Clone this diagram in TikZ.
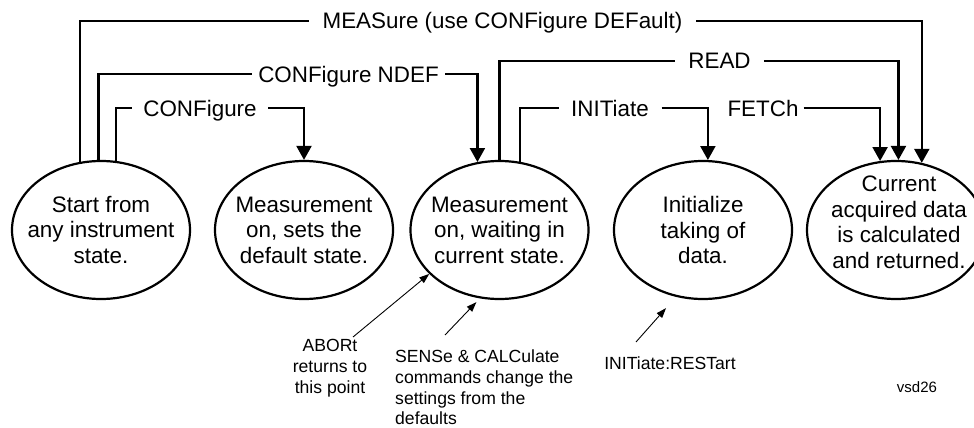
\documentclass[tikz,border=0pt]{standalone}
\usepackage{fontspec}
\setmainfont{Liberation Sans}
\usetikzlibrary{shapes.geometric, arrows.meta}

\begin{document}
\begin{tikzpicture}[x=1pt, y=-1pt,
    state/.style={draw, line width=2.2pt, ellipse, minimum width=178pt, minimum height=138pt, inner sep=0pt},
    statetxt/.style={align=center, font=\fontsize{22.4}{25.5}\selectfont},
    cmd/.style={font=\fontsize{22.4}{25.5}\selectfont, text height=16pt, text depth=0pt, inner ysep=0pt},
    link/.style={line width=2.2pt},
    linkto/.style={link, -{Triangle[length=14pt, width=15pt]}},
    note/.style={align=center, font=\fontsize{17.6}{20.8}\selectfont, inner sep=0pt},
    hint/.style={line width=0.9pt, -{Triangle[length=10pt, width=7pt]}}]

    \useasboundingbox (0,0) rectangle (974,428);

    % states
    \node[state, label={[statetxt]center:{Start from\\any instrument\\state.}}] (start) at (101,230) {};
    \node[state, label={[statetxt]center:{Measurement\\on, sets the\\default state.}}] (dflt) at (304,230) {};
    \node[state, label={[statetxt]center:{Measurement\\on, waiting in\\current state.}}] (wait) at (499.5,230) {};
    \node[state, label={[statetxt]center:{Initialize\\taking of\\data.}}] (init) at (703,230) {};
    \node[state, label={[statetxt, yshift=7.5pt, xshift=3pt]center:{Current\\acquired data\\is calculated\\and returned.}}] (calc) at (896,230) {};

    % commands
    \node[cmd, inner xsep=13.5pt] (meas) at (502.5,21) {MEASure (use CONFigure DEFault)};
    \node[cmd, inner xsep=6.5pt] (ndef) at (348.5,74) {CONFigure NDEF};
    \node[cmd, inner xsep=11.5pt] (conf) at (200,108) {CONFigure};
    \node[cmd, inner xsep=13pt] (read) at (719.5,61) {READ};
    \node[cmd, inner xsep=12.5pt] (initiate) at (610,108) {INITiate};
    \node[cmd, inner xsep=5pt] (fetch) at (763,108) {FETCh};

    \draw[link] (start.107) |- (meas);
    \draw[linkto] (meas) -| (calc.69);
    \draw[link] (start.92) |- (ndef);
    \draw[linkto] (ndef) -| (wait.108);
    \draw[link] (start.78) |- (conf);
    \draw[linkto] (conf) -| (dflt.north);
    \draw[link] (wait.north) |- (read);
    \draw[linkto] (read) -| (calc.88);
    \draw[link] (wait.73) |- (initiate);
    \draw[linkto] (initiate) -| (init.86);
    \draw[linkto] (fetch) -| (calc.103);

    % notes
    \node[note] (abort) at (330,368) {ABORt\\returns to\\this point};
    \node[note, align=left, anchor=west] (sense) at (395,387.5) {SENSe \& CALCulate\\commands change the\\settings from the\\defaults};
    \node[note] (restart) at (670,363) {INITiate:RESTart};
    \node[font=\fontsize{15}{18}\selectfont] (vsd) at (917,387) {vsd26};

    \coordinate (aborttail) at (353,337);
    \draw[hint] (aborttail) -- (wait.212);
    \coordinate (sensetail) at (445,335);
    \draw[hint, shorten >=5pt] (sensetail) -- (wait.254);
    \coordinate (restarttail) at (636,342);
    \draw[hint, shorten >=15pt] (restarttail) -- (init.248);

\end{tikzpicture}
\end{document}
